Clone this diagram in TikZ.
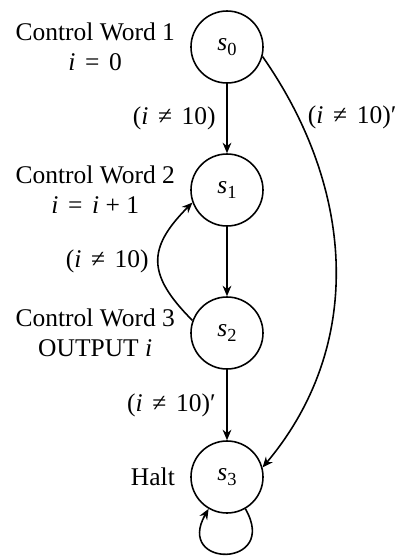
\documentclass[tikz,border=0pt]{standalone}
\usepackage{fontspec}
\setmainfont{Liberation Serif}
\usetikzlibrary{positioning, arrows.meta}
\newcommand{\vi}{\textit{i}}
\newcommand{\rel}[1]{\hspace{0.38em}#1\hspace{0.38em}}
\newcommand{\stn}[1]{\textit{s}\raisebox{-0.45ex}{\fontsize{10.5}{12}\selectfont #1}}
\newcommand{\cnd}{(\vi\rel{≠}10)}

\begin{document}
\begin{tikzpicture}[
  state/.style={draw, circle, line width=0.9pt, minimum size=1.44cm, inner sep=0pt},
  desc/.style={align=center, inner sep=0pt},
  cond/.style={inner sep=1pt},
  arr/.style={-{Stealth[length=6pt, width=5pt]}, line width=0.9pt},
  font=\fontsize{14.5}{17}\selectfont,
]
\useasboundingbox (0,0) rectangle (8.08,-11.16);

% States
\node[state] (s0) at (4.54, -0.94) {\stn{0}};
\node[state] (s1) at (4.54, -3.80) {\stn{1}};
\node[state] (s2) at (4.54, -6.66) {\stn{2}};
\node[state] (s3) at (4.54, -9.54) {\stn{3}};

% State descriptions
\node[desc, left=0.3cm of s0] (d0) {Control Word 1\\\vi\rel{=}0};
\node[desc, left=0.3cm of s1] (d1) {Control Word 2\\\vi\rel{=}\vi\ + 1};
\node[desc, left=0.3cm of s2] (d2) {Control Word 3\\OUTPUT \vi};
\node[desc, left=0.3cm of s3] (d3) {Halt};

% Transitions
\draw[arr] (s0) -- node[cond, left=5pt] {\cnd} (s1);
\draw[arr] (s1) -- (s2);
\draw[arr] (s2) -- node[cond, left=5pt] {\cnd′} (s3);
\draw[arr] (s2.160) to[out=135, in=225, looseness=1.4]
  node[cond, left=4pt] {\cnd} (s1.200);
\draw[arr] (s0.-15) to[out=-55, in=50]
  node[cond, pos=0.15, right=4pt] {\cnd′} (s3.15);

% Self loop on halt
\draw[arr] (s3.-60) to[out=-60, in=-120, looseness=4.8] (s3.-120);
\end{tikzpicture}
\end{document}
